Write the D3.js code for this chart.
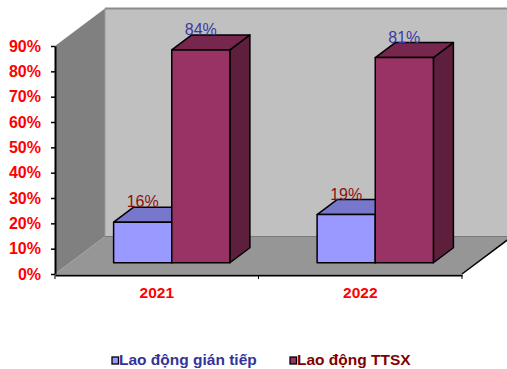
<!DOCTYPE html>
<html>
<head>
<meta charset="utf-8">
<script src="https://cdn.jsdelivr.net/npm/d3@7"></script>
<style>
  html, body { margin: 0; padding: 0; background: #fff; }
  svg { display: block; font-family: "Liberation Sans", Arial, sans-serif; }
</style>
</head>
<body>
<svg id="chart" width="507" height="369"></svg>
<script>
// Data
const categories = ["2021", "2022"];
const seriesNames = ["Lao động gián tiếp", "Lao động TTSX"];
const indirectShare = [0.16, 0.19];
const productionShare = [0.84, 0.81];
const yTickValues = [0, 0.1, 0.2, 0.3, 0.4, 0.5, 0.6, 0.7, 0.8, 0.9];

// Layout of the 3D box (oblique projection)
const left = 55, right = 462, floorY = 274, topY = 46;
const depth = { x: 50, y: -37.5 };
const barFront = 0.3, barBack = 0.7;

const svg = d3.select("#chart");

const y = d3.scaleLinear().domain([0, 0.9]).range([floorY, topY]);
const x0 = d3.scaleBand().domain(categories).range([left, right]).padding(0);
const x1 = d3.scaleBand().domain(seriesNames).range([0, x0.bandwidth()])
  .paddingInner(0).paddingOuter(0.75);

// project a point on the front plane to depth fraction f
const P = (px, py, f) => [px + depth.x * f, py + depth.y * f];
const pts = arr => arr.map(p => p.join(",")).join(" ");

const farRight = right + depth.x + 5;

// side wall
svg.append("polygon")
  .attr("points", pts([P(left, topY, 0), P(left, topY, 1), P(left, floorY, 1), P(left, floorY, 0)]))
  .attr("fill", "#808080");
// back wall
svg.append("polygon")
  .attr("points", pts([P(left, topY, 1), [farRight, topY + depth.y], [farRight, floorY + depth.y], P(left, floorY, 1)]))
  .attr("fill", "#c0c0c0");
svg.append("line")
  .attr("x1", left + depth.x).attr("x2", farRight)
  .attr("y1", topY + depth.y).attr("y2", topY + depth.y)
  .attr("stroke", "#8c8c8c").attr("stroke-width", 2);
svg.append("line")
  .attr("x1", left + depth.x).attr("x2", left + depth.x)
  .attr("y1", topY + depth.y).attr("y2", floorY + depth.y)
  .attr("stroke", "#9a9a9a").attr("stroke-width", 1);
// floor
svg.append("polygon")
  .attr("points", pts([P(left, floorY, 0), P(left, floorY, 1), P(right, floorY, 1), P(right, floorY, 0)]))
  .attr("fill", "#969696");
svg.append("line")
  .attr("x1", left + depth.x).attr("x2", farRight)
  .attr("y1", floorY + depth.y).attr("y2", floorY + depth.y)
  .attr("stroke", "#7a7a7a").attr("stroke-width", 1);
// floor right edge
svg.append("line")
  .attr("x1", right).attr("y1", floorY)
  .attr("x2", right + depth.x).attr("y2", floorY + depth.y)
  .attr("stroke", "#000").attr("stroke-width", 1.5);

// Bars
const series = [
  { name: seriesNames[0], values: indirectShare, front: "#9999ff", top: "#7777cc", side: "#6060a8", label: "#8b1010" },
  { name: seriesNames[1], values: productionShare, front: "#993366", top: "#77264e", side: "#5e1f3d", label: "#3a3aa0" }
];

const barsG = svg.append("g");
categories.forEach((cat, ci) => {
  series.forEach(s => {
    const v = s.values[ci];
    const xl = x0(cat) + x1(s.name);
    const xr = xl + x1.bandwidth();
    const yb = y(0), yt = y(v);
    const g = barsG.append("g");
    const style = sel => sel.attr("stroke", "#000").attr("stroke-width", 1.5).attr("stroke-linejoin", "round");
    // right side
    g.append("polygon")
      .attr("points", pts([P(xr, yt, barFront), P(xr, yt, barBack), P(xr, yb, barBack), P(xr, yb, barFront)]))
      .attr("fill", s.side).call(style);
    // top
    g.append("polygon")
      .attr("points", pts([P(xl, yt, barFront), P(xr, yt, barFront), P(xr, yt, barBack), P(xl, yt, barBack)]))
      .attr("fill", s.top).call(style);
    // front
    const [fx, fy] = P(xl, yt, barFront);
    const [fx2, fy2] = P(xr, yb, barFront);
    g.append("rect")
      .attr("x", fx).attr("y", fy).attr("width", fx2 - fx).attr("height", fy2 - fy)
      .attr("fill", s.front).call(style);
  });
});

// Value labels
categories.forEach((cat, ci) => {
  series.forEach(s => {
    const v = s.values[ci];
    const xl = x0(cat) + x1(s.name);
    const [cx, ty] = P(xl + x1.bandwidth() / 2, y(v), barFront);
    svg.append("text")
      .attr("x", cx).attr("y", ty - 15)
      .attr("text-anchor", "middle")
      .attr("font-size", 16)
      .attr("fill", s.label)
      .text(d3.format(".0%")(v));
  });
});

// Y axis
const yAxis = svg.append("g")
  .attr("transform", `translate(${left},0)`)
  .call(d3.axisLeft(y).tickValues(yTickValues).tickFormat(d3.format(".0%"))
    .tickSize(4).tickSizeOuter(0).tickPadding(10));
yAxis.select(".domain").attr("stroke", "#000").attr("stroke-width", 2);
yAxis.selectAll(".tick line").attr("stroke", "#000").attr("stroke-width", 1.5);
yAxis.selectAll(".tick text")
  .attr("fill", "#ff0000").attr("font-size", 16).attr("font-weight", "bold")
  .attr("font-family", "Liberation Sans, Arial, sans-serif");

// X axis
const xAxis = svg.append("g")
  .attr("transform", `translate(0,${floorY + 1})`)
  .call(d3.axisBottom(x0).tickSize(0).tickPadding(12));
xAxis.select(".domain").attr("stroke", "#000").attr("stroke-width", 2);
xAxis.selectAll(".tick text")
  .attr("fill", "#ff0000").attr("font-size", 15.5).attr("font-weight", "bold")
  .attr("font-family", "Liberation Sans, Arial, sans-serif");
const bounds = categories.map(c => x0(c)).concat([x0(categories[categories.length - 1]) + x0.bandwidth()]);
xAxis.selectAll(".bound").data(bounds).enter().append("line")
  .attr("x1", d => d).attr("x2", d => d).attr("y1", 0).attr("y2", 4)
  .attr("stroke", "#000").attr("stroke-width", 1);

// Legend
const legendItems = [
  { name: seriesNames[0], color: "#9999ff", text: "#333399", x: 112 },
  { name: seriesNames[1], color: "#993366", text: "#800000", x: 290 }
];
const legend = svg.append("g");
legendItems.forEach(it => {
  legend.append("rect")
    .attr("x", it.x).attr("y", 357).attr("width", 6.5).attr("height", 7)
    .attr("fill", it.color).attr("stroke", "#000").attr("stroke-width", 1.3);
  legend.append("text")
    .attr("x", it.x + 7).attr("y", 365)
    .attr("font-size", 15.5).attr("font-weight", "bold")
    .attr("fill", it.text)
    .text(it.name);
});
</script>
</body>
</html>
